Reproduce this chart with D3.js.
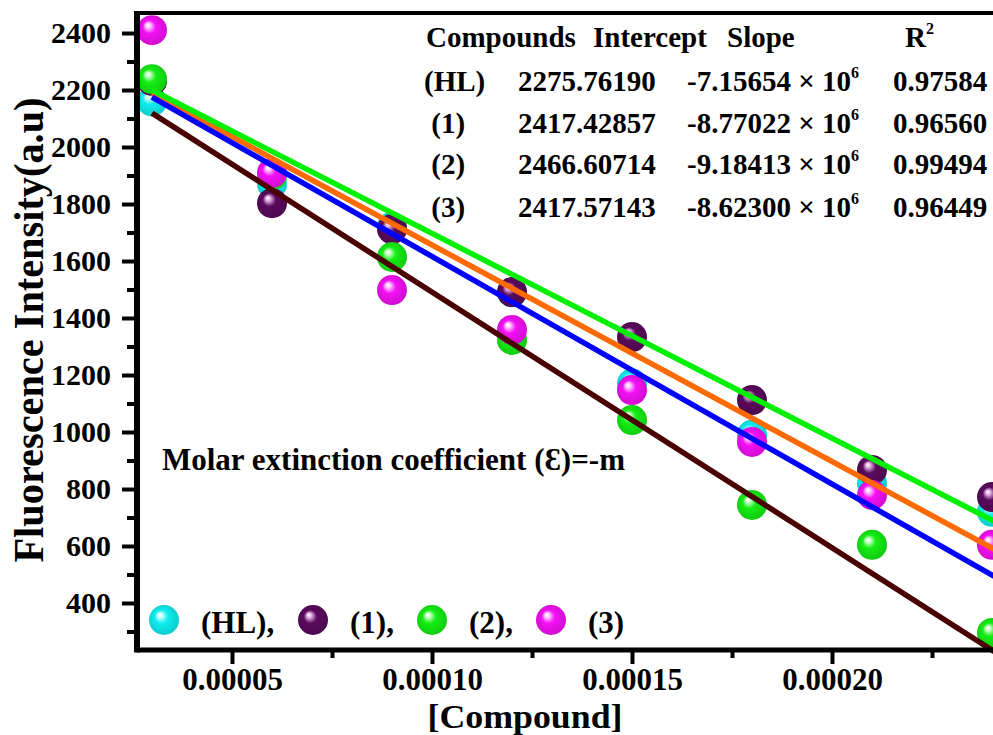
<!DOCTYPE html>
<html>
<head>
<meta charset="utf-8">
<script src="https://cdn.jsdelivr.net/npm/d3@7"></script>
<style>
  html, body { margin: 0; padding: 0; background: #fff; overflow: hidden; }
  svg { display: block; font-family: "Liberation Serif", "Times New Roman", serif; font-weight: bold; }
</style>
</head>
<body>
<div class="chart"></div>
<script>
// concentrations of compound (M)
const concentrations = [0.00003, 0.00006, 0.00009, 0.00012, 0.00015, 0.00018, 0.00021, 0.00024];

// fluorescence intensity (a.u) per compound
const hlValues = [2160, 1870, 1720, 1490, 1170, 990, 820, 720];
const c1Values = [2232, 1803, 1712, 1491, 1333, 1112, 867, 772];
const c2Values = [2238, 1900, 1614, 1323, 1042, 744, 604, 295];
const c3Values = [2410, 1909, 1498, 1358, 1147, 965, 779, 604];

const seriesNames = ["(HL)", "(1)", "(2)", "(3)"];
const sphereColors = ["#10eef0", "#5a0a5c", "#14ee14", "#f410f4"];
const sphereLights = ["#d8ffff", "#f0c0f0", "#d8ffd8", "#ffd8ff"];

// fitted lines, read at the first and the last concentration
const fitStart = [2188, 2200, 2119, 2175];
const fitEnd = [593, 691, 235, 498];
const fitColors = ["#ff6a00", "#00f000", "#4a0000", "#0000ff"];
const fitOrder = [0, 3, 1, 2];

// table in the upper right corner
const tableHeader = ["Compounds", "Intercept", "Slope", "R"];
const tableRows = [
  ["(HL)", "2275.76190", "-7.15654 \u00d7 10", "0.97584"],
  [" (1)", "2417.42857", "-8.77022 \u00d7 10", "0.96560"],
  [" (2)", "2466.60714", "-9.18413 \u00d7 10", "0.99494"],
  [" (3)", "2417.57143", "-8.62300 \u00d7 10", "0.96449"]
];

const yTicks = [400, 600, 800, 1000, 1200, 1400, 1600, 1800, 2000, 2200, 2400];
const yMinor = [300, 500, 700, 900, 1100, 1300, 1500, 1700, 1900, 2100, 2300];
const xTicks = [0.00005, 0.00010, 0.00015, 0.00020];
const xMinor = [0.000075, 0.000125, 0.000175, 0.000225];

const W = 993, H = 735;
const mLeft = 137, mTop = 13, mBottom = 650, mRight = 1000;

const svg = d3.select(".chart").append("svg")
  .attr("width", W).attr("height", H)
  .attr("viewBox", `0 0 ${W} ${H}`);

const x = d3.scaleLinear().domain([0.00002625, 0.000242]).range([mLeft, mRight]);
const y = d3.scaleLinear().domain([235.1, 2470.2]).range([mBottom, mTop]);

const series = [hlValues, c1Values, c2Values, c3Values].map((vals, i) => ({
  name: seriesNames[i],
  i: i,
  points: vals.map((v, j) => ({ x: concentrations[j], y: v }))
}));

// sphere gradients
const defs = svg.append("defs");
sphereColors.forEach((c, i) => {
  const g = defs.append("radialGradient")
    .attr("id", "ball" + i)
    .attr("cx", "50%").attr("cy", "50%").attr("r", "55%")
    .attr("fx", "35%").attr("fy", "32%");
  g.append("stop").attr("offset", "0%").attr("stop-color", "#ffffff");
  g.append("stop").attr("offset", "12%").attr("stop-color", sphereLights[i]);
  g.append("stop").attr("offset", "40%").attr("stop-color", c);
  g.append("stop").attr("offset", "100%").attr("stop-color", d3.color(c).darker(0.5));
});

// points
series.forEach(s => {
  svg.append("g").selectAll("circle")
    .data(s.points)
    .enter().append("circle")
    .attr("cx", d => x(d.x))
    .attr("cy", d => y(d.y))
    .attr("r", 15)
    .attr("fill", `url(#ball${s.i})`);
});

// fitted lines
const line = d3.line().x(d => x(d.x)).y(d => y(d.y));
const x0 = concentrations[0], x1 = concentrations[concentrations.length - 1];
fitOrder.forEach(i => {
  const slope = (fitEnd[i] - fitStart[i]) / (x1 - x0);
  const xe = 0.000245;
  svg.append("path")
    .datum([{ x: x0, y: fitStart[i] }, { x: xe, y: fitStart[i] + slope * (xe - x0) }])
    .attr("d", line)
    .attr("fill", "none")
    .attr("stroke", fitColors[i])
    .attr("stroke-width", 5.5);
});

// axes
function styleAxis(g) {
  g.select(".domain").remove();
  g.selectAll(".tick line").attr("stroke", "#000").attr("stroke-width", 4);
  g.selectAll(".tick text").attr("fill", "#000").attr("font-size", 30)
    .attr("font-family", "Liberation Serif").attr("font-weight", "bold");
}

svg.append("g").attr("transform", `translate(${mLeft},0)`)
  .call(d3.axisLeft(y).tickValues(yTicks).tickSize(15).tickPadding(11).tickFormat(d3.format("d")))
  .call(styleAxis);
svg.append("g").attr("transform", `translate(${mLeft},0)`)
  .call(d3.axisLeft(y).tickValues(yMinor).tickSize(10).tickFormat(""))
  .call(styleAxis);

svg.append("g").attr("transform", `translate(0,${mBottom})`)
  .call(d3.axisBottom(x).tickValues(xTicks).tickSize(14).tickPadding(4).tickFormat(d3.format(".5f")))
  .call(styleAxis)
  .selectAll(".tick text").attr("font-size", 31);
svg.append("g").attr("transform", `translate(0,${mBottom})`)
  .call(d3.axisBottom(x).tickValues(xMinor).tickSize(8).tickFormat(""))
  .call(styleAxis);

// frame
svg.append("line").attr("x1", mLeft).attr("x2", W).attr("y1", mTop).attr("y2", mTop)
  .attr("stroke", "#000").attr("stroke-width", 4);
svg.append("line").attr("x1", mLeft).attr("x2", W).attr("y1", mBottom).attr("y2", mBottom)
  .attr("stroke", "#000").attr("stroke-width", 5);
svg.append("line").attr("x1", mLeft).attr("x2", mLeft).attr("y1", mTop - 2).attr("y2", mBottom + 2.5)
  .attr("stroke", "#000").attr("stroke-width", 6);

// axis titles
svg.append("text")
  .attr("transform", "translate(43,330) rotate(-90)")
  .attr("text-anchor", "middle")
  .attr("font-size", 42)
  .attr("textLength", 465).attr("lengthAdjust", "spacingAndGlyphs")
  .text("Fluorescence Intensity(a.u)");

svg.append("text")
  .attr("x", 525).attr("y", 728)
  .attr("text-anchor", "middle")
  .attr("font-size", 34)
  .attr("textLength", 195).attr("lengthAdjust", "spacingAndGlyphs")
  .text("[Compound]");

// table
const colX = [424, 518, 687, 893];
const headX = [426, 593, 727, 905];
const rowY = [47, 91, 133, 174, 217];
tableHeader.forEach((h, i) => {
  const t = svg.append("text").attr("x", headX[i]).attr("y", rowY[0]).attr("font-size", 29).text(h);
  if (i === 3) t.append("tspan").attr("font-size", 16).attr("dy", -13).text("2");
});
tableRows.forEach((row, r) => {
  row.forEach((cell, c) => {
    const t = svg.append("text").attr("x", colX[c]).attr("y", rowY[r + 1])
      .attr("font-size", 29).attr("xml:space", "preserve").text(cell);
    if (c === 2) {
      t.append("tspan").attr("font-size", 16).attr("dy", -13).text("6");
    }
  });
});

// annotation
svg.append("text").attr("x", 162).attr("y", 470).attr("font-size", 31)
  .text("Molar extinction coefficient (\u0190)=-m");

// legend
const legendBall = [164, 313, 432, 551];
const legendText = ["(HL),", "(1),", "(2),", "(3)"];
const legendTextX = [201, 350, 469, 588];
legendBall.forEach((bx, i) => {
  svg.append("circle").attr("cx", bx).attr("cy", 620).attr("r", 15).attr("fill", `url(#ball${i})`);
  svg.append("text").attr("x", legendTextX[i]).attr("y", 633).attr("font-size", 31).text(legendText[i]);
});
</script>
</body>
</html>
